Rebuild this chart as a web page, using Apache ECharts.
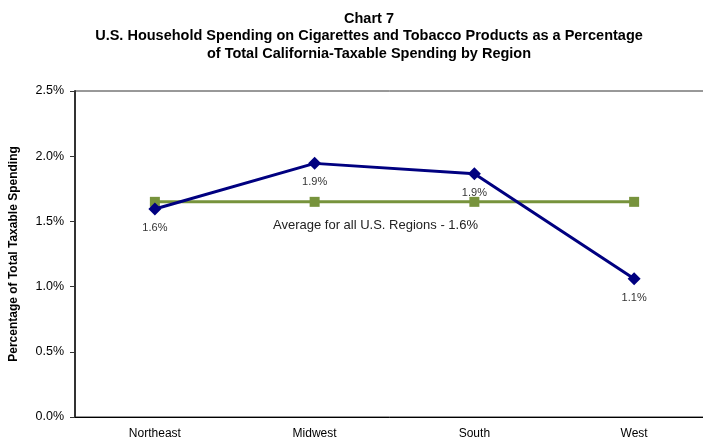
<!DOCTYPE html>
<html>
<head>
<meta charset="utf-8">
<script src="https://cdn.jsdelivr.net/npm/echarts@6/dist/echarts.min.js"></script>
<style>
  html, body { margin: 0; padding: 0; background: #fff; }
  #main { width: 703px; height: 439px; }
</style>
</head>
<body>
<div id="main"></div>
<script>
var regions = ['Northeast', 'Midwest', 'South', 'West'];
var regionShare = [1.595, 1.945, 1.865, 1.06];
var regionLabels = ['1.6%', '1.9%', '1.9%', '1.1%'];
var averageShare = [1.65, 1.65, 1.65, 1.65];
var yTicks = [0, 0.5, 1.0, 1.5, 2.0, 2.5];

var myChart = echarts.init(document.getElementById('main'));

var option = {
    backgroundColor: '#fff',
    animation: false,
    title: {
        text: 'Chart 7\nU.S. Household Spending on Cigarettes and Tobacco Products as a Percentage\nof Total California-Taxable Spending by Region',
        left: 364,
        top: 5,
        textAlign: 'center',
        textStyle: {
            fontFamily: 'Liberation Sans',
            fontSize: 14.5,
            fontWeight: 'bold',
            color: '#000',
            lineHeight: 17.5
        }
    },
    grid: {
        left: 75,
        top: 91,
        right: -11,
        bottom: 22,
        outerBoundsMode: 'none',
        containLabel: false,
        show: true,
        borderColor: '#333',
        borderWidth: 1
    },
    xAxis: {
        type: 'category',
        data: regions,
        boundaryGap: true,
        axisLine: { lineStyle: { color: '#000', width: 1 } },
        axisTick: { show: false },
        axisLabel: {
            fontFamily: 'Liberation Sans',
            fontSize: 12,
            color: '#000',
            margin: 11
        }
    },
    yAxis: {
        type: 'value',
        min: yTicks[0],
        max: yTicks[yTicks.length - 1],
        interval: 0.5,
        name: 'Percentage of Total Taxable Spending',
        nameLocation: 'middle',
        nameGap: 55,
        nameTextStyle: {
            fontFamily: 'Liberation Sans',
            fontSize: 12,
            fontWeight: 'bold',
            color: '#000'
        },
        axisLine: { show: true, lineStyle: { color: '#333', width: 2 } },
        axisTick: { show: true, length: 5, inside: false, lineStyle: { color: '#333' } },
        splitLine: { show: false },
        axisLabel: {
            fontFamily: 'Liberation Sans',
            fontSize: 12.5,
            color: '#000',
            margin: 11,
            formatter: function (v) { return v.toFixed(1) + '%'; }
        }
    },
    series: [
        {
            name: 'Average',
            type: 'line',
            data: averageShare,
            symbol: 'rect',
            symbolSize: 10,
            lineStyle: { color: '#77933C', width: 3 },
            itemStyle: { color: '#77933C' },
            z: 2
        },
        {
            name: 'Region',
            type: 'line',
            data: regionShare,
            symbol: 'diamond',
            symbolSize: 13,
            lineStyle: { color: '#000080', width: 3 },
            itemStyle: { color: '#000080' },
            label: {
                show: true,
                position: 'bottom',
                distance: 7,
                fontFamily: 'Liberation Sans',
                fontSize: 11,
                color: '#333',
                formatter: function (p) { return regionLabels[p.dataIndex]; }
            },
            z: 3
        }
    ],
    graphic: [
        {
            type: 'text',
            left: 273,
            top: 219,
            style: {
                text: 'Average for all U.S. Regions - 1.6%',
                font: '13px "Liberation Sans"',
                fill: '#222'
            }
        }
    ]
};

myChart.setOption(option);
</script>
</body>
</html>
